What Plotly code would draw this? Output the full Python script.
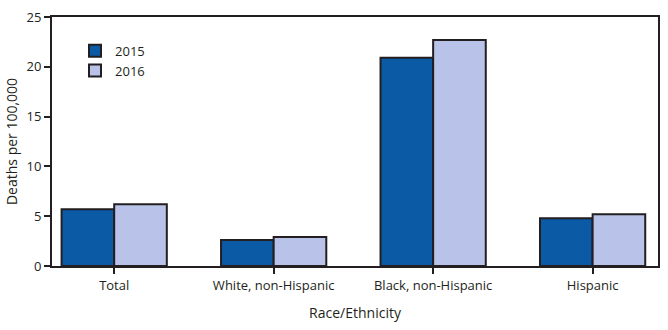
import plotly.graph_objects as go

categories = ["Total", "White, non-Hispanic", "Black, non-Hispanic", "Hispanic"]
vals_2015 = [5.7, 2.6, 20.9, 4.8]
vals_2016 = [6.2, 2.9, 22.7, 5.2]
y_ticks = [0, 5, 10, 15, 20, 25]

FONT = "Open Sans"
LINE = "#231f20"

fig = go.Figure()
fig.add_trace(go.Bar(x=categories, y=vals_2015, name="2015",
                     marker=dict(color="#0a5aa6", line=dict(color=LINE, width=2))))
fig.add_trace(go.Bar(x=categories, y=vals_2016, name="2016",
                     marker=dict(color="#b9c3ea", line=dict(color=LINE, width=2))))

fig.update_layout(
    width=668, height=330,
    margin=dict(l=52, r=8, t=15, b=64),
    plot_bgcolor="white", paper_bgcolor="white",
    barmode="group", bargap=0.34, bargroupgap=0,
    font=dict(family=FONT, size=12, color=LINE),
    legend=dict(x=0.038, y=0.925, xanchor="left", yanchor="top",
                font=dict(size=13, color=LINE), bgcolor="rgba(0,0,0,0)",
                tracegroupgap=0, itemwidth=30),
    showlegend=True,
)
fig.update_xaxes(
    range=[-0.39, 3.41], showline=True, linecolor=LINE, linewidth=2, mirror=True,
    ticks="outside", ticklen=6, tickwidth=2, tickcolor=LINE,
    tickfont=dict(size=13, color=LINE),
    title=dict(text="Race/Ethnicity", font=dict(size=14, color=LINE), standoff=16),
)
fig.update_yaxes(
    range=[0, 25], tickvals=y_ticks, showline=True, linecolor=LINE, linewidth=2, mirror=True,
    ticks="outside", ticklen=6, tickwidth=2, tickcolor=LINE, showgrid=False, zeroline=False,
    tickfont=dict(size=13, color=LINE),
    title=dict(text="Deaths per 100,000", font=dict(size=14, color=LINE), standoff=6),
)

fig.write_html("out.html")
